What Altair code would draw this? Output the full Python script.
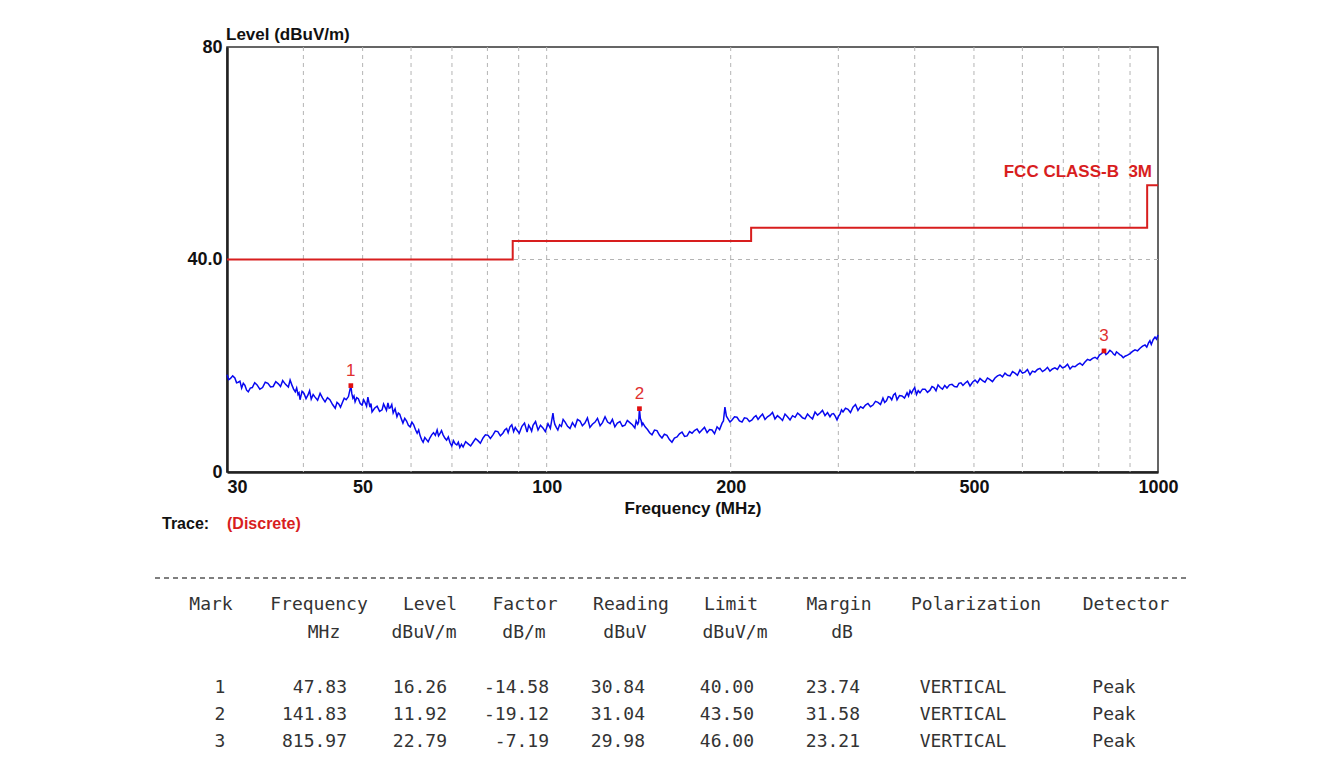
import altair as alt
import pandas as pd

# ---------------- data ----------------
trace_freq = [
    30.0, 30.2, 30.4, 30.65, 30.9, 31.1, 31.3, 31.5, 31.7, 31.9, 32.1, 32.3, 32.5, 32.75, 33.0, 33.3,
    33.6, 33.95, 34.3, 34.65, 35.0, 35.35, 35.7, 36.05, 36.4, 36.7, 37.0, 37.4, 37.8, 38.05, 38.3, 38.55,
    38.8, 39.0, 39.2, 39.35, 39.5, 39.8, 40.1, 40.4, 40.7, 40.95, 41.2, 41.5, 41.8, 42.2, 42.6, 43.0,
    43.4, 43.8, 44.2, 44.65, 45.1, 45.4, 45.7, 46.0, 46.3, 46.65, 47.0, 47.4, 47.83, 48.0, 48.2, 48.4,
    48.6, 48.9, 49.2, 49.55, 49.9, 50.2, 50.5, 50.75, 51.0, 51.2, 51.4, 51.6, 51.8, 52.3, 52.8, 53.3,
    53.8, 54.1, 54.4, 54.7, 55.0, 55.25, 55.5, 55.8, 56.1, 56.5, 56.9, 57.2, 57.5, 57.85, 58.2, 58.6,
    59.0, 59.4, 59.8, 60.2, 60.6, 61.0, 61.4, 61.75, 62.1, 62.45, 62.8, 63.2, 63.6, 64.0, 64.4, 64.85,
    65.3, 65.75, 66.2, 66.55, 66.9, 67.3, 67.7, 68.15, 68.6, 69.05, 69.5, 69.95, 70.4, 70.85, 71.3, 71.7,
    72.1, 72.55, 73.0, 73.7, 74.4, 75.1, 75.8, 76.5, 77.2, 77.9, 78.7, 79.4, 80.2, 80.9, 81.7, 82.4,
    83.2, 84.0, 84.8, 85.4, 86.0, 86.5, 87.1, 87.7, 88.3, 88.85, 89.4, 90.2, 91.1, 92.0, 92.9, 93.45,
    94.0, 94.5, 95.0, 95.9, 96.8, 97.7, 98.6, 99.5, 100.5, 101.4, 102.4, 102.75, 103.1, 103.7, 104.3, 105.0,
    105.7, 106.4, 107.2, 108.2, 109.2, 110.2, 111.3, 112.3, 113.4, 114.4, 115.5, 116.6, 117.7, 118.8, 120.0, 121.1,
    122.3, 123.4, 124.6, 125.8, 127.0, 128.1, 129.3, 130.5, 131.8, 133.0, 134.3, 135.5, 136.8, 138.1, 139.4, 140.1,
    140.9, 141.4, 141.83, 142.3, 142.8, 143.2, 143.7, 144.9, 146.2, 147.4, 148.7, 150.1, 151.5, 153.0, 154.4, 155.8,
    157.3, 158.8, 160.3, 161.8, 163.4, 164.9, 166.5, 168.1, 169.7, 171.3, 172.9, 174.5, 176.2, 177.8, 179.5, 181.2,
    183.0, 184.7, 186.4, 188.2, 190.0, 191.8, 193.6, 194.6, 195.7, 196.8, 198.0, 199.5, 201.0, 202.9, 204.8, 206.7,
    208.7, 210.6, 212.6, 214.6, 216.7, 218.3, 220.0, 221.7, 223.4, 225.5, 227.6, 229.7, 231.9, 234.1, 236.3, 238.5,
    240.8, 243.1, 245.4, 247.7, 250.1, 252.5, 254.9, 257.3, 259.7, 262.1, 264.6, 267.1, 269.6, 272.2, 274.8, 277.4,
    280.0, 282.6, 285.3, 288.0, 290.7, 292.6, 294.6, 296.5, 298.5, 300.2, 301.9, 303.6, 305.3, 308.2, 311.1, 314.0,
    317.0, 320.0, 323.0, 326.1, 329.2, 332.3, 335.4, 338.6, 341.8, 345.0, 348.3, 351.6, 354.9, 357.2, 359.6, 362.0,
    364.4, 366.8, 369.3, 371.7, 374.2, 377.7, 381.3, 384.9, 388.6, 390.8, 393.0, 395.2, 397.4, 400.0, 402.7, 405.3,
    408.0, 411.9, 415.8, 419.7, 423.7, 426.9, 430.1, 433.4, 436.7, 440.4, 444.1, 447.9, 451.7, 456.0, 460.3, 464.6,
    469.0, 472.5, 476.1, 479.7, 483.4, 488.0, 492.6, 497.3, 502.0, 506.7, 511.5, 516.3, 521.2, 526.1, 531.1, 536.1,
    541.2, 546.3, 551.5, 556.7, 562.0, 567.3, 572.7, 578.1, 583.5, 589.0, 594.6, 600.2, 605.9, 611.6, 617.4, 623.2,
    629.1, 635.1, 641.1, 647.2, 653.3, 659.5, 665.7, 671.9, 678.2, 684.7, 691.2, 697.8, 704.5, 711.2, 718.0, 724.8,
    731.6, 738.5, 745.4, 752.4, 759.5, 766.8, 774.1, 781.5, 788.9, 795.4, 802.0, 809.0, 815.97, 822.0, 828.0, 834.4,
    840.9, 845.6, 850.4, 855.2, 860.1, 865.8, 871.5, 877.3, 883.2, 891.6, 900.0, 908.5, 917.1, 925.8, 934.6, 943.4,
    952.3, 958.6, 965.0, 970.0, 975.0, 981.9, 988.8, 994.4, 1000.0,
]
trace_level = [
    18.3, 17.4, 17.6, 18.1, 17.7, 16.8, 16.9, 17.1, 15.8, 16.7, 16.3, 15.4, 15.1, 15.8, 15.9, 16.8,
    16.4, 15.6, 15.9, 16.9, 16.7, 16.0, 16.1, 17.0, 16.6, 16.1, 17.2, 16.5, 16.0, 17.3, 16.4, 15.6,
    15.1, 15.8, 14.6, 14.9, 13.6, 15.2, 14.8, 13.8, 14.5, 15.3, 13.7, 14.6, 14.1, 13.5, 14.8, 13.9,
    13.2, 14.0, 13.6, 12.7, 12.0, 13.1, 12.8, 12.2, 13.0, 13.9, 13.6, 14.2, 16.26, 14.8, 13.9, 14.3,
    13.2, 14.0, 13.8, 12.9, 12.6, 13.6, 13.0, 12.4, 14.1, 13.1, 12.2, 12.9, 11.3, 12.0, 12.4, 11.4,
    11.7, 12.8, 12.2, 11.6, 13.0, 12.0, 12.1, 12.7, 11.1, 11.9, 10.4, 11.1, 10.9, 10.0, 9.2, 10.1,
    9.6, 8.8, 8.5, 9.4, 8.9, 8.0, 7.3, 7.9, 6.8, 6.1, 5.6, 6.5, 6.1, 5.7, 6.4, 7.0,
    7.4, 6.9, 7.9, 6.8, 7.2, 7.8, 7.0, 6.4, 6.0, 6.6, 5.5, 4.9, 5.9, 5.3, 5.1, 5.6,
    4.6, 5.2, 4.7, 5.7, 5.3, 4.9, 5.6, 6.3, 5.9, 5.4, 6.4, 7.0, 6.9, 6.3, 7.0, 7.7,
    7.6, 6.8, 7.3, 7.9, 8.2, 7.4, 8.5, 8.9, 7.6, 8.4, 7.9, 7.3, 8.6, 9.2, 7.5, 8.8,
    8.3, 7.7, 8.8, 9.5, 7.9, 8.8, 8.3, 7.6, 9.1, 8.2, 11.1, 9.8, 9.0, 8.4, 7.9, 8.9,
    8.6, 9.9, 9.4, 8.6, 8.2, 9.3, 8.5, 9.9, 9.6, 8.7, 9.2, 10.2, 8.4, 9.0, 9.4, 10.1,
    8.7, 9.3, 10.4, 9.4, 9.1, 9.9, 8.5, 9.2, 9.5, 8.6, 8.8, 9.7, 9.3, 8.9, 8.3, 9.6,
    9.0, 9.4, 11.92, 10.1, 9.6, 8.8, 9.2, 8.5, 8.0, 7.4, 7.0, 7.9, 7.8, 6.9, 6.4, 7.1,
    6.9, 6.1, 5.6, 6.4, 6.6, 7.2, 7.5, 6.7, 6.8, 7.6, 7.3, 7.8, 8.1, 7.4, 7.9, 8.4,
    7.4, 8.0, 7.9, 7.2, 8.5, 8.0, 9.2, 9.6, 12.2, 10.5, 10.0, 9.4, 9.8, 10.4, 10.3, 9.6,
    9.4, 10.2, 10.1, 9.5, 9.8, 10.3, 10.6, 9.9, 10.4, 10.9, 9.9, 10.4, 10.7, 11.2, 10.0, 10.6,
    10.2, 9.7, 10.9, 10.4, 9.8, 10.6, 10.3, 11.1, 10.7, 10.2, 10.0, 10.9, 10.4, 10.0, 11.3, 10.7,
    11.1, 11.6, 10.6, 11.2, 10.4, 10.9, 11.0, 10.5, 9.8, 10.5, 10.9, 11.7, 11.3, 12.0, 11.8, 11.2,
    12.2, 12.7, 11.6, 12.3, 12.0, 12.6, 12.9, 12.3, 12.6, 13.3, 13.1, 12.7, 13.9, 13.1, 13.4, 14.2,
    14.1, 13.6, 14.5, 14.8, 13.6, 14.4, 14.3, 13.9, 14.9, 14.3, 15.3, 14.8, 15.4, 15.9, 14.6, 15.3,
    14.9, 15.6, 15.6, 15.0, 15.4, 16.1, 15.9, 15.3, 16.4, 15.9, 15.6, 16.3, 15.8, 16.4, 16.5, 16.1,
    16.0, 16.7, 16.8, 16.3, 16.7, 17.1, 16.2, 16.9, 17.3, 16.8, 17.6, 17.2, 16.9, 17.7, 17.4, 17.0,
    17.7, 18.1, 18.3, 17.9, 18.6, 18.2, 18.1, 18.9, 18.6, 18.2, 19.2, 18.6, 18.8, 19.3, 18.3, 19.0,
    18.8, 19.3, 19.5, 18.9, 19.2, 19.7, 19.0, 19.4, 19.6, 19.3, 20.1, 19.6, 19.8, 20.3, 19.4, 19.9,
    19.8, 20.2, 20.5, 20.1, 20.7, 21.2, 21.0, 21.4, 21.6, 21.3, 22.0, 22.3, 22.79, 22.1, 22.4, 22.9,
    22.6, 22.2, 22.0, 22.6, 22.4, 22.1, 21.9, 21.5, 21.8, 22.0, 22.3, 22.7, 23.0, 22.8, 23.3, 23.7,
    23.9, 23.5, 24.3, 24.7, 24.0, 24.9, 25.4, 25.0, 25.8,
]

limit_freq = [30, 88, 216, 960, 1000]
limit_level = [40, 43.5, 46, 54, 54]
limit_name = "FCC CLASS-B\u00a0\u00a03M"

grid_freq = [40, 50, 60, 70, 80, 90, 100, 200, 300, 400, 500, 600, 700, 800, 900]
grid_level = [40]
x_ticks = [30, 50, 100, 200, 500, 1000]
y_ticks = [0, 40, 80]

mark_no = [1, 2, 3]
mark_freq = [47.83, 141.83, 815.97]
mark_level = [16.26, 11.92, 22.79]
mark_factor = [-14.58, -19.12, -7.19]
mark_reading = [30.84, 31.04, 29.98]
mark_limit = [40.00, 43.50, 46.00]
mark_margin = [23.74, 31.58, 23.21]
mark_pol = ["VERTICAL", "VERTICAL", "VERTICAL"]
mark_det = ["Peak", "Peak", "Peak"]

# ---------------- layout ----------------
PX0, PY0 = 227, 47          # plot-area origin in page pixels
W, H = 931, 425
PAD_L, PAD_T = PX0 - 8, PY0 - 8
PAD_R = 1320 - PAD_L - W
PAD_B = 742 - PAD_T - H

RED = "#d81e1e"
BOLD_FONT = "Liberation Sans"
MONO = "DejaVu Sans Mono"

X_ENC = alt.X(
    "freq:Q",
    scale=alt.Scale(type="log", domain=[30, 1000], nice=False),
    title="Frequency (MHz)",
    axis=alt.Axis(
        values=x_ticks, grid=False, ticks=False, labelFlush=False, format="d",
        labelAlign=alt.expr("datum.value == 30 ? 'left' : 'center'"),
        labelFont=BOLD_FONT, labelFontSize=18, labelFontWeight="bold", labelColor="#111",
        labelPadding=6, labelBaseline="top",
        titleFont=BOLD_FONT, titleFontSize=17, titleFontWeight="bold", titleColor="#111",
        titlePadding=4, domainColor="#222", domainWidth=2.5,
    ),
)
Y_ENC = alt.Y(
    "level:Q",
    scale=alt.Scale(domain=[0, 80], nice=False, zero=False),
    title=None,
    axis=alt.Axis(
        values=y_ticks, grid=False, ticks=False,
        labelExpr="datum.value == 40 ? '40.0' : datum.label",
        labelFont=BOLD_FONT, labelFontSize=18, labelFontWeight="bold", labelColor="#111",
        labelPadding=5, labelFlush=False, domainColor="#222", domainWidth=2.5,
    ),
)

trace_df = pd.DataFrame({"freq": trace_freq, "level": trace_level})
limit_df = pd.DataFrame({"freq": limit_freq, "level": limit_level})
grid_v_df = pd.DataFrame({"freq": grid_freq})
grid_h_df = pd.DataFrame({"level": grid_level})
marks_df = pd.DataFrame({"freq": mark_freq, "level": mark_level, "no": [str(n) for n in mark_no]})

grid_v = alt.Chart(grid_v_df).mark_rule(color="#b4b4b4", strokeDash=[4, 4], strokeWidth=1).encode(x=X_ENC)
grid_h = alt.Chart(grid_h_df).mark_rule(color="#b4b4b4", strokeDash=[4, 4], strokeWidth=1).encode(y=Y_ENC)
limit = alt.Chart(limit_df).mark_line(color=RED, strokeWidth=2, interpolate="step-after").encode(x=X_ENC, y=Y_ENC)
trace = alt.Chart(trace_df).mark_line(color="#0808f0", strokeWidth=1.5).encode(x=X_ENC, y=Y_ENC)
mk_pts = alt.Chart(marks_df).mark_point(shape="square", filled=True, color="#e01010", size=22, opacity=1).encode(x=X_ENC, y=Y_ENC)
mk_lbl = alt.Chart(marks_df).mark_text(color="#e03030", font=BOLD_FONT, fontSize=17, dy=-15).encode(x=X_ENC, y=Y_ENC, text="no:N")


def txt(s, x, y, align="left", size=17, weight="bold", color="#111", font=BOLD_FONT):
    return alt.Chart(pd.DataFrame({"t": [s]})).mark_text(
        align=align, baseline="middle", fontSize=size, fontWeight=weight, color=color, font=font
    ).encode(x=alt.value(x - PX0), y=alt.value(y - PY0), text="t:N")


annot = [
    txt("Level (dBuV/m)", 226, 35),
    txt(limit_name, 1152, 172, align="right", color=RED),
    txt("Trace:", 162, 524, size=16),
    txt("(Discrete)", 227, 524, size=16, color=RED),
]

sep = alt.Chart(pd.DataFrame({"a": [0]})).mark_rule(color="#555", strokeDash=[5, 4], strokeWidth=1.5).encode(
    x=alt.value(155 - PX0), x2=alt.value(1186 - PX0), y=alt.value(578 - PY0)
)

# table: (header1, header2, values, header1 centre, header2 centre, value anchor, value align)
f2 = lambda v: f"{v:.2f}"
table_cols = [
    ("Mark", "", [str(n) for n in mark_no], 211, 0, 220, "center"),
    ("Frequency", "MHz", [f2(v) for v in mark_freq], 319, 324, 347, "right"),
    ("Level", "dBuV/m", [f2(v) for v in mark_level], 430, 424, 447, "right"),
    ("Factor", "dB/m", [f2(v) for v in mark_factor], 525, 524, 549, "right"),
    ("Reading", "dBuV", [f2(v) for v in mark_reading], 631, 625, 645, "right"),
    ("Limit", "dBuV/m", [f2(v) for v in mark_limit], 731, 735, 754, "right"),
    ("Margin", "dB", [f2(v) for v in mark_margin], 839, 842, 860, "right"),
    ("Polarization", "", mark_pol, 976, 0, 963, "center"),
    ("Detector", "", mark_det, 1126, 0, 1114, "center"),
]
ROW_Y = [688, 715, 742]
table = []
for h1, h2, vals, hc1, hc2, vx, va in table_cols:
    table.append(txt(h1, hc1, 605, align="center", size=18, weight="normal", color="#333", font=MONO))
    if h2:
        table.append(txt(h2, hc2, 633, align="center", size=18, weight="normal", color="#333", font=MONO))
    for v, ry in zip(vals, ROW_Y):
        table.append(txt(v, vx, ry, align=va, size=18, weight="normal", color="#333", font=MONO))

chart = alt.layer(grid_v, grid_h, limit, trace, mk_pts, mk_lbl, *annot, sep, *table).properties(
    width=W, height=H,
    autosize=alt.AutoSizeParams(type="none"),
    padding={"left": PAD_L, "top": PAD_T, "right": PAD_R, "bottom": PAD_B},
    background="white",
).configure_view(stroke="#333", strokeWidth=1.5)

chart.save("out.html", embed_options={"renderer": "svg", "actions": False})
